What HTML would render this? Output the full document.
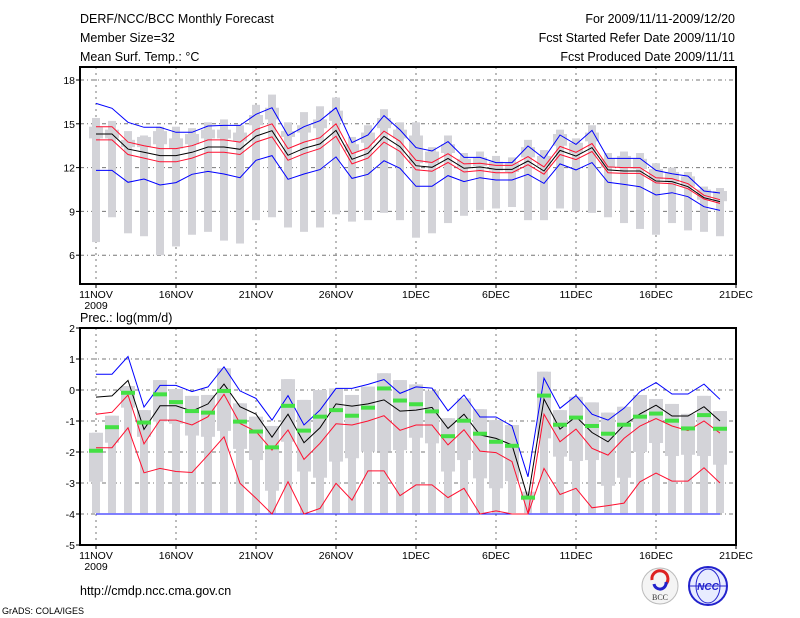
<!DOCTYPE html>
<html><head><meta charset="utf-8">
<style>
html,body{margin:0;padding:0;background:#fff;}
svg{display:block;font-family:"Liberation Sans",sans-serif;}
.t{font-size:12.5px;fill:#000;}
.s{font-size:10.5px;fill:#000;}
</style></head>
<body>
<svg id="chart" width="800" height="618" viewBox="0 0 800 618" xmlns="http://www.w3.org/2000/svg">
<text class="t" x="80" y="23">DERF/NCC/BCC Monthly Forecast</text>
<text class="t" x="80" y="42">Member Size=32</text>
<text class="t" x="80" y="61">Mean Surf. Temp.: °C</text>
<text class="t" x="735" y="23" text-anchor="end">For 2009/11/11-2009/12/20</text>
<text class="t" x="735" y="42" text-anchor="end">Fcst Started Refer Date 2009/11/10</text>
<text class="t" x="735" y="61" text-anchor="end">Fcst Produced Date 2009/11/11</text>
<text class="t" x="80" y="322">Prec.: log(mm/d)</text>
<text class="t" x="80" y="595">http://cmdp.ncc.cma.gov.cn</text>
<text x="2" y="614" style="font-size:9px">GrADS: COLA/IGES</text>
<g>
<circle cx="660" cy="586" r="18" fill="#f4f4f4" stroke="#bbb"/>
<path d="M652 580 a8 8 0 1 1 14 4" fill="none" stroke="#d22" stroke-width="3"/>
<path d="M654 584 a6 6 0 1 0 12 -2" fill="none" stroke="#22c" stroke-width="3"/>
<text x="660" y="600" text-anchor="middle" style="font-size:8px;font-family:'Liberation Serif',serif" fill="#333">BCC</text>
</g>
<g>
<circle cx="708" cy="586" r="19" fill="#e8ecff" stroke="#22c" stroke-width="2"/>
<ellipse cx="708" cy="586" rx="12" ry="17" fill="none" stroke="#22c"/>
<line x1="690" y1="586" x2="726" y2="586" stroke="#22c"/>
<text x="708" y="590" text-anchor="middle" style="font-size:10px;font-style:italic;font-weight:bold" fill="#22c">NCC</text>
</g>
</svg>
<script>
// ---- Temperature panel data (days from 11NOV) ----
const dayLabels=["11NOV","16NOV","21NOV","26NOV","1DEC","6DEC","11DEC","16DEC","21DEC"];
const tTicks=[6,9,12,15,18];
const pTicks=[-5,-4,-3,-2,-1,0,1,2];
const tMean=[14.3,14.3,13.27,13.05,12.82,12.82,13.05,13.41,13.41,13.25,14.16,14.53,12.84,13.32,13.62,14.55,12.57,12.98,14.14,13.43,12.13,12.02,12.63,11.95,12.04,11.88,11.88,12.45,11.77,13.18,12.79,13.37,11.84,11.77,11.77,11.08,11.04,10.69,9.94,9.67];
const tRedHi=[14.8,14.8,13.75,13.5,13.3,13.3,13.5,13.9,13.9,13.75,14.6,15.0,13.3,13.75,14.05,15.0,12.95,13.35,14.5,13.8,12.5,12.35,12.95,12.25,12.3,12.15,12.15,12.75,12.05,13.45,13.05,13.65,12.05,12.0,12.0,11.3,11.25,10.9,10.1,9.8];
const tRedLo=[13.9,13.9,12.9,12.65,12.4,12.4,12.65,13.05,13.05,12.9,13.75,14.1,12.5,12.95,13.3,14.15,12.25,12.65,13.75,13.1,11.85,11.75,12.35,11.7,11.8,11.65,11.65,12.2,11.55,12.9,12.55,13.1,11.65,11.6,11.6,10.95,10.9,10.55,9.85,9.55];
const tBlueHi=[16.4,16.06,15.1,14.76,14.76,14.42,14.42,14.85,14.89,14.89,15.65,16.1,14.19,14.8,15.21,16.1,13.71,14.23,15.56,14.58,13.37,13.14,13.78,12.7,12.7,12.34,12.34,13.48,12.63,14.23,13.59,14.55,12.63,12.63,12.63,11.81,11.58,11.42,10.4,10.26];
const tBlueLo=[11.81,11.81,10.99,11.22,10.81,10.97,11.54,11.74,11.56,11.31,12.5,12.82,11.2,11.56,11.86,12.73,11.26,11.54,12.47,11.95,10.72,10.72,11.45,11.04,11.31,11.15,11.15,11.54,10.92,12.25,11.84,12.34,10.99,10.85,10.69,10.12,10.28,10.01,9.32,9.07];
const tObsMax=[15.4,15.2,14.5,14.2,14.8,14.8,14.7,15.1,15.3,14.9,16.3,17.0,15.1,15.8,16.2,16.8,14.1,14.9,16.0,15.1,15.1,13.4,14.2,13.0,13.1,12.8,12.7,13.9,13.2,14.6,14.0,14.9,13.0,13.1,13.0,12.3,12.0,11.7,10.7,10.6];
const tObsMin=[6.9,8.6,7.5,7.3,6.0,6.6,7.4,7.6,7.0,6.8,8.4,8.6,7.9,7.6,7.9,8.8,8.3,8.4,8.9,8.4,7.2,7.5,8.2,8.7,9.1,9.2,9.3,8.4,8.4,9.2,9.0,8.9,8.6,8.2,7.8,7.4,8.2,7.7,7.6,7.3];
const tBoxHi=[14.8,14.6,13.9,14.1,14.5,14.0,14.3,14.6,14.6,14.4,15.6,16.1,14.5,14.9,15.3,15.9,13.6,14.4,15.4,14.6,14.2,13.1,13.6,12.6,12.7,12.4,12.3,13.4,12.8,14.3,13.7,14.4,12.6,12.8,12.6,11.9,11.7,11.4,10.5,10.4];
const tBoxLo=[14.0,14.0,13.4,13.4,13.6,13.3,13.6,14.0,14.0,13.8,14.9,15.3,14.1,14.4,14.7,15.2,13.1,13.7,14.7,14.0,12.3,12.3,13.0,12.0,12.1,11.8,11.7,12.7,12.1,13.5,13.0,13.8,12.0,12.0,11.9,11.2,11.0,10.7,9.8,9.7];
// ---- Precipitation panel data ----
const pMean=[-0.23,-0.19,0.31,-1.27,-0.51,-0.51,-0.68,-0.45,0.19,-0.54,-0.78,-1.52,-0.78,-1.7,-1.22,-0.45,-0.52,-0.45,-0.32,-0.68,-0.65,-0.56,-1.24,-0.78,-1.45,-1.56,-1.77,-3.49,-0.29,-1.26,-0.86,-1.37,-1.67,-1.13,-0.77,-0.49,-0.84,-0.84,-0.54,-1.0];
const pBlueHi=[0.51,0.51,1.08,-0.55,0.15,0.15,-0.05,0.1,0.75,-0.03,-0.27,-0.97,-0.18,-1.13,-0.65,0.05,0.05,0.18,0.34,-0.11,0.1,0.06,-0.67,-0.16,-0.87,-0.87,-1.16,-2.8,0.38,-0.59,-0.18,-0.78,-0.97,-0.59,-0.05,0.24,-0.13,-0.13,0.19,-0.3];
const pBlueLo=[-4,-4,-4,-4,-4,-4,-4,-4,-4,-4,-4,-4,-4,-4,-4,-4,-4,-4,-4,-4,-4,-4,-4,-4,-4,-4,-4,-4,-4,-4,-4,-4,-4,-4,-4,-4,-4,-4,-4,-4];
const pRedHi=[-0.78,-0.72,-0.16,-1.74,-0.97,-0.97,-1.13,-0.86,-0.14,-1.08,-1.34,-1.94,-1.29,-2.24,-1.72,-1.09,-1.13,-1.0,-0.83,-1.3,-1.13,-1.13,-1.77,-1.28,-1.97,-2.02,-2.31,-3.98,-0.78,-1.67,-1.26,-1.88,-2.1,-1.56,-1.16,-0.92,-1.16,-1.31,-1.0,-1.39];
const pRedLo=[-1.86,-1.86,-1.22,-2.67,-2.53,-2.63,-2.66,-2.1,-1.51,-3.01,-3.49,-4.0,-2.96,-4.0,-3.82,-3.01,-3.55,-2.61,-2.61,-3.41,-3.06,-3.06,-3.47,-3.17,-4.0,-3.9,-4.0,-4.0,-2.53,-3.37,-3.17,-3.8,-3.73,-3.65,-2.96,-2.68,-2.94,-2.94,-2.51,-3.0];
const pObs=[-1.96,-1.2,-0.09,-1.05,-0.14,-0.39,-0.68,-0.73,-0.03,-1.02,-1.34,-1.85,-0.51,-1.31,-0.86,-0.65,-0.83,-0.57,0.05,-0.34,-0.46,-0.69,-1.49,-0.99,-1.41,-1.67,-1.8,-3.47,-0.18,-1.12,-0.89,-1.16,-1.41,-1.12,-0.86,-0.76,-0.99,-1.24,-0.81,-1.25];
const pBarTop=[-1.38,-0.83,0.13,-0.65,0.32,0.03,-0.19,-0.16,0.7,-0.43,-0.86,-1.16,0.35,-0.32,0,0.05,-0.16,0.11,0.54,0.32,0.18,-0.02,-0.91,-0.27,-0.62,-0.97,-1.13,-3.28,0.59,-0.65,-0.22,-0.4,-0.73,-0.54,-0.16,-0.29,-0.45,-0.77,-0.19,-0.68];
const pBoxLo=[-2.96,-1.7,-0.57,-1.51,-1.02,-1.09,-1.47,-1.51,-1.32,-1.9,-2.26,-3.25,-1.67,-2.63,-2.83,-2.31,-2.2,-1.99,-1.99,-1.94,-1.54,-1.72,-2.63,-2.26,-2.85,-3.17,-2.94,-3.55,-1.56,-2.15,-2.29,-2.26,-3.09,-2.83,-2.0,-1.71,-2.13,-2.09,-2.13,-2.41];
const pBarBottom=-3.97;

const NS="http://www.w3.org/2000/svg";
const svg=document.getElementById('chart');
const X0=80,X1=736;
const xd=d=>96+16*d;
const yT=v=>80+(18-v)*14.6;
const yP=v=>390-31*v;
function mk(tag,attrs,parent){const e=document.createElementNS(NS,tag);for(const k in attrs)e.setAttribute(k,attrs[k]);(parent||svg).appendChild(e);return e;}

function panel(name,top,bot,ticks,yf){
  const g=mk('g',{});
  
  
  for(let i=0;i<dayLabels.length;i++){
    const x=xd(i*5);
    if(x>X0&&x<X1){const l=mk('line',{x1:x,y1:top,x2:x,y2:bot,stroke:'#777','stroke-dasharray':'2,4','stroke-width':1},g);
    
    }
  }
  ticks.forEach(v=>{const y=yf(v);if(y>top+1&&y<bot-1){const l=mk('line',{x1:X0,y1:y,x2:X1,y2:y,stroke:'#777','stroke-dasharray':'4,3,1,3','stroke-width':1},g);
    
    }});
  return g;
}
function frame(name,top,bot,ticks,yf){
  const r=mk('rect',{x:X0,y:top,width:X1-X0,height:bot-top,fill:'none',stroke:'#000','stroke-width':2});
  
  
  ticks.forEach(v=>{const y=yf(v);
    mk('line',{x1:X0-4,y1:y,x2:X0,y2:y,stroke:'#000'});
    const t=mk('text',{x:X0-5,y:y+4,'text-anchor':'end',class:'s'});t.textContent=v;
    
    });
  dayLabels.forEach((lab,i)=>{const x=xd(i*5);
    mk('line',{x1:x,y1:bot,x2:x,y2:bot+4,stroke:'#000'});
    const t=mk('text',{x:x,y:bot+14,'text-anchor':'middle',class:'s'});t.textContent=lab;
    
    });
  const yr=mk('text',{x:xd(0),y:bot+25,'text-anchor':'middle',class:'s'});yr.textContent='2009';
  
  
}
function line(arr,yf,color,name){
  const p=mk('polyline',{points:arr.map((v,i)=>xd(i)+','+yf(v).toFixed(1)).join(' '),fill:'none',stroke:color,'stroke-width':1});
  
  
}
const GRAY='#d3d3d8';
const TT=67,TB=284;
panel('temp-grid',TT,TB,tTicks,yT);
tObsMax.forEach((v,i)=>{
  const b=mk('rect',{x:xd(i)-4,y:yT(v),width:8,height:yT(tObsMin[i])-yT(v),fill:GRAY});
  
  
  const w=mk('rect',{x:xd(i)-7,y:yT(tBoxHi[i]),width:14,height:yT(tBoxLo[i])-yT(tBoxHi[i]),fill:GRAY});
  
  
});
line(tBlueHi,yT,'#0000ff','temp-blue-upper');
line(tBlueLo,yT,'#0000ff','temp-blue-lower');
line(tRedHi,yT,'#ff1030','temp-red-upper');
line(tRedLo,yT,'#ff1030','temp-red-lower');
line(tMean,yT,'#000','temp-mean');
frame('temp-frame',TT,TB,tTicks,yT);
const PT=328,PB=545;
panel('prec-grid',PT,PB,pTicks,yP);
pBarTop.forEach((v,i)=>{
  const b=mk('rect',{x:xd(i)-4,y:yP(v),width:8,height:yP(pBarBottom)-yP(v),fill:GRAY});
  
  
  const w=mk('rect',{x:xd(i)-7,y:yP(v),width:14,height:yP(pBoxLo[i])-yP(v),fill:GRAY});
  
  
});
line(pBlueLo,yP,'#0000ff','prec-blue-lower');
line(pRedLo,yP,'#ff1030','prec-red-lower');
line(pRedHi,yP,'#ff1030','prec-red-upper');
line(pBlueHi,yP,'#0000ff','prec-blue-upper');
line(pMean,yP,'#000','prec-mean');
pObs.forEach((v,i)=>{
  const m=mk('rect',{x:xd(i)-7,y:yP(v)-2,width:14,height:4,fill:'#44e044'});
  
  
});
frame('prec-frame',PT,PB,pTicks,yP);
</script>
</body></html>
